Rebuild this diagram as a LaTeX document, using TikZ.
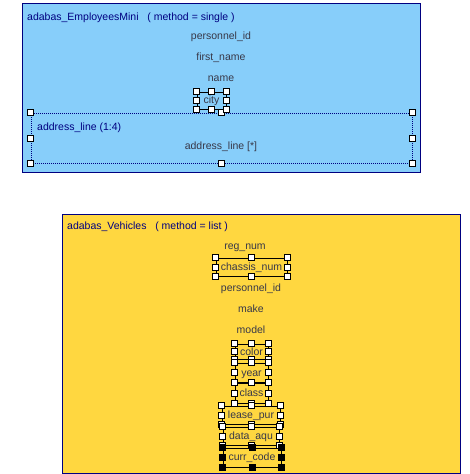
\documentclass[tikz,border=0pt]{standalone}
\usepackage{fontspec}
\setmainfont{Liberation Sans}
\definecolor{bluefill}{RGB}{135,206,250}
\definecolor{yellowfill}{RGB}{255,215,64}
\definecolor{navy}{RGB}{0,0,128}
\definecolor{itemgray}{RGB}{56,56,72}
\tikzset{
  panel/.style={draw=navy, line width=1pt, inner sep=0pt, anchor=north west},
  titletext/.style={text=navy, anchor=west, inner sep=0pt, text height=9pt, text depth=2pt, font=\fontsize{10.5}{12}\selectfont},
  item/.style={text=itemgray, inner sep=0pt, text height=9pt, text depth=2pt, font=\fontsize{10.5}{12}\selectfont},
  selbox/.style={draw=black, line width=0.9pt, inner sep=0pt},
  handle/.style={draw=black, fill=white, line width=0.8pt, minimum size=6pt, inner sep=0pt},
  darkhandle/.style={draw=black, fill=black, line width=0.8pt, minimum size=6pt, inner sep=0pt}
}
\newcommand{\mkhandles}[2]{%
  \foreach \a in {north west,north,north east,east,south east,south,south west,west}
    {\node[#2] at (#1.\a) {};}%
}
\begin{document}
\begin{tikzpicture}[x=1pt,y=-1pt]
\useasboundingbox (0,0) rectangle (469,474);
% Employees panel
\node[panel, fill=bluefill, minimum width=398pt, minimum height=169pt] (emp) at (22,3) {};
\node[titletext] (emptitle) at (27,16.5) {adabas\_EmployeesMini\ \ \ ( method = single )};
\node[item] (pid1) at (221,36) {personnel\_id};
\node[item] (fname) at (221,57) {first\_name};
\node[item] (name) at (221,78) {name};
\node[draw=navy, dash pattern=on 1pt off 1pt, line width=1pt, inner sep=0pt, minimum width=381pt, minimum height=50pt] (addr) at (221.5,138) {};
\node[titletext] (addrtitle) at (37,127) {address\_line (1:4)};
\node[item] (addrline) at (221,146) {address\_line [*]};
\node[selbox, minimum width=29pt, minimum height=17pt] (citybox) at (211.5,100.5) {};
\node[item] (city) at (211.5,100) {city};
\mkhandles{addr}{handle}
\mkhandles{citybox}{handle}
% Vehicles panel
\node[panel, fill=yellowfill, minimum width=398pt, minimum height=259pt] (veh) at (62,214) {};
\node[titletext] (vehtitle) at (67,226) {adabas\_Vehicles\ \ \ ( method = list )};
\node[item] (reg) at (245,246) {reg\_num};
\node[selbox, minimum width=71pt, minimum height=18pt] (chassisbox) at (251.5,267) {};
\node[item] (chassis) at (251.5,267) {chassis\_num};
\node[item] (pid2) at (251,288) {personnel\_id};
\node[item] (make) at (251,309) {make};
\node[item] (model) at (251,330) {model};
\node[selbox, minimum width=33pt, minimum height=15pt] (colorbox) at (251.5,351.5) {};
\node[item] (color) at (251.5,352) {color};
\node[selbox, minimum width=33pt, minimum height=19pt] (yearbox) at (251.5,372.5) {};
\node[item] (year) at (251.5,373) {year};
\node[selbox, minimum width=33pt, minimum height=20pt] (classbox) at (251.5,393) {};
\node[item] (class) at (251.5,393) {class};
\node[selbox, minimum width=58pt, minimum height=18pt] (leasebox) at (251,415) {};
\node[item] (lease) at (251,415) {lease\_pur};
\node[selbox, minimum width=56pt, minimum height=18pt] (databox) at (251,436) {};
\node[item] (data) at (251,436) {data\_aqu};
\node[selbox, minimum width=58pt, minimum height=19pt] (currbox) at (252,457.5) {};
\node[item] (curr) at (252,457) {curr\_code};
\mkhandles{chassisbox}{handle}
\mkhandles{colorbox}{handle}
\mkhandles{yearbox}{handle}
\mkhandles{classbox}{handle}
\mkhandles{leasebox}{handle}
\mkhandles{databox}{handle}
\mkhandles{currbox}{darkhandle}
\end{tikzpicture}
\end{document}
